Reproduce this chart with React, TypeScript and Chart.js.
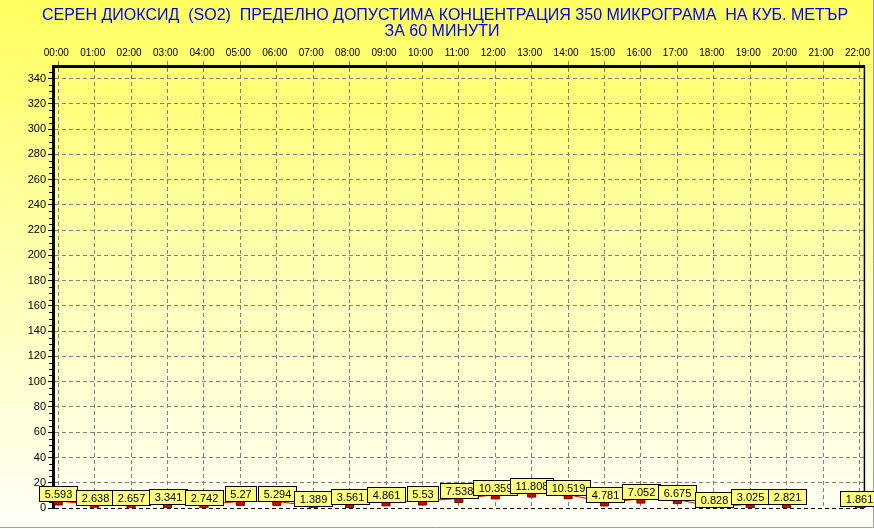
import React, { useEffect, useRef } from 'react';
import { Chart, registerables } from 'chart.js';

Chart.register(...registerables);

const hours: string[] = [
  '00:00', '01:00', '02:00', '03:00', '04:00', '05:00', '06:00', '07:00',
  '08:00', '09:00', '10:00', '11:00', '12:00', '13:00', '14:00', '15:00',
  '16:00', '17:00', '18:00', '19:00', '20:00', '21:00', '22:00',
];

const so2Values: (number | null)[] = [
  5.593, 2.638, 2.657, 3.341, 2.742, 5.27, 5.294, 1.389, 3.561, 4.861, 5.53, 7.538,
  10.359, 11.808, 10.519, 4.781, 7.052, 6.675, 0.828, 3.025, 2.821, null, 1.861,
];

const titleLines: string[] = [
  'СЕРЕН ДИОКСИД  (SO2)  ПРЕДЕЛНО ДОПУСТИМА КОНЦЕНТРАЦИЯ 350 МИКРОГРАМА  НА КУБ. МЕТЪР',
  'ЗА 60 МИНУТИ',
];

const yMin = 0;
const yMax = 350;
const yStep = 20;
const yMinorStep = 5;

const FONT = 'Arial, "Liberation Sans", sans-serif';

const backgroundPlugin = {
  id: 'bgPanel',
  beforeDraw(chart: any) {
    const { ctx, width, height } = chart;
    ctx.save();
    const g = ctx.createLinearGradient(0, 0, 0, height);
    g.addColorStop(0, '#FFFF5E');
    g.addColorStop(0.55, '#FFFFB8');
    g.addColorStop(1, '#FFFFF8');
    ctx.fillStyle = g;
    ctx.fillRect(0, 0, width, height);
    ctx.strokeStyle = '#A0A0A0';
    ctx.lineWidth = 1;
    ctx.beginPath();
    ctx.moveTo(0, height - 1.5);
    ctx.lineTo(width - 0.5, height - 1.5);
    ctx.lineTo(width - 0.5, 0);
    ctx.stroke();
    // title
    ctx.fillStyle = '#0000F0';
    ctx.font = `16px ${FONT}`;
    ctx.textAlign = 'center';
    ctx.textBaseline = 'middle';
    ctx.fillText(titleLines[0], 445, 16);
    ctx.fillText(titleLines[1], 442, 32);
    ctx.restore();
  },
};

const decorPlugin = {
  id: 'decor',
  beforeDatasetsDraw(chart: any) {
    const { ctx, chartArea, scales } = chart;
    const y = scales.y;
    ctx.save();
    ctx.strokeStyle = '#000';
    ctx.lineWidth = 1;
    ctx.beginPath();
    for (let v = yMin + yMinorStep; v < yMax; v += yMinorStep) {
      if (v % yStep === 0) continue;
      const py = Math.round(y.getPixelForValue(v)) + 0.5;
      ctx.moveTo(chartArea.left - 4, py);
      ctx.lineTo(chartArea.left, py);
    }
    ctx.stroke();
    ctx.restore();
  },
  afterDatasetsDraw(chart: any) {
    const { ctx, chartArea } = chart;
    ctx.save();
    // right frame line
    ctx.strokeStyle = '#000';
    ctx.lineWidth = 1.5;
    ctx.beginPath();
    ctx.moveTo(chartArea.right, chartArea.top);
    ctx.lineTo(chartArea.right, chartArea.bottom);
    ctx.stroke();
    // value marks
    const meta = chart.getDatasetMeta(0);
    ctx.font = `11px ${FONT}`;
    ctx.textAlign = 'center';
    ctx.textBaseline = 'middle';
    meta.data.forEach((pt: any, i: number) => {
      const v = so2Values[i];
      if (v === null || v === undefined) return;
      const text = String(v);
      const w = Math.round(ctx.measureText(text).width + 10);
      const h = 15;
      const x0 = Math.round(pt.x - w / 2) + 0.5;
      const y0 = Math.round(pt.y - h) + 0.5;
      ctx.fillStyle = '#FFFF80';
      ctx.fillRect(x0, y0, w, h);
      ctx.strokeStyle = '#000';
      ctx.lineWidth = 1;
      ctx.strokeRect(x0, y0, w, h);
      ctx.fillStyle = '#000';
      ctx.fillText(text, x0 + w / 2, y0 + h / 2 + 0.5);
    });
    ctx.restore();
  },
};

export default function App() {
  const canvasRef = useRef<HTMLCanvasElement | null>(null);

  useEffect(() => {
    document.body.style.margin = '0';
    const canvas = canvasRef.current;
    if (!canvas) return;
    const chart = new Chart(canvas, {
      type: 'line',
      data: {
        datasets: [
          {
            label: 'SO2',
            data: hours.map((_, i) => ({ x: i, y: so2Values[i] })) as any,
            borderColor: '#E00000',
            borderWidth: 1,
            backgroundColor: '#D00000',
            pointStyle: 'rect',
            pointRadius: 5.7,
            pointBorderColor: '#800000',
            pointBorderWidth: 1,
            pointBackgroundColor: '#D00000',
            spanGaps: false,
            tension: 0,
          },
        ],
      },
      options: {
        animation: false,
        responsive: false,
        devicePixelRatio: 1,
        layout: { padding: { top: 0, left: 0, right: 9, bottom: 21 } },
        plugins: {
          legend: { display: false },
          title: { display: false },
          tooltip: { enabled: false },
        },
        scales: {
          x: {
            type: 'linear',
            position: 'top',
            min: -0.145,
            max: 22.137,
            afterFit: (s: any) => { s.height = 66; },
            afterBuildTicks: (s: any) => { s.ticks = hours.map((_, i) => ({ value: i })); },
            ticks: {
              stepSize: 1,
              includeBounds: false,
              autoSkip: false,
              maxRotation: 0,
              padding: 2,
              labelOffset: -2,
              color: '#000',
              font: { family: FONT, size: 10 },
              callback: (v: any) => hours[Number(v)] ?? '',
            },
            grid: {
              color: '#808080',
              lineWidth: 1,
              tickLength: 5,
              tickBorderDash: [4, 3],
              tickColor: '#808080',
            } as any,
            border: { display: true, color: '#000', width: 3, dash: [4, 3] },
          },
          y: {
            type: 'linear',
            min: yMin,
            max: yMax,
            afterFit: (s: any) => { s.width = 53; },
            afterBuildTicks: (s: any) => {
              const t: any[] = [];
              for (let v = yMin; v < yMax; v += yStep) t.push({ value: v });
              s.ticks = t;
            },
            ticks: {
              stepSize: yStep,
              includeBounds: false,
              padding: 2,
              color: '#000',
              font: { family: FONT, size: 11 },
            },
            grid: {
              color: (c: any) => (c.tick && c.tick.value === 0 ? '#000' : '#808080'),
              lineWidth: 1,
              tickLength: 5,
              tickBorderDash: [],
              tickColor: '#000',
            } as any,
            border: { display: true, color: '#000', width: 3, dash: [4, 3] },
          },
        },
      },
      plugins: [backgroundPlugin, decorPlugin],
    });
    return () => chart.destroy();
  }, []);

  return (
    <div style={{ width: 874, height: 529 }}>
      <canvas ref={canvasRef} width={874} height={529} style={{ display: 'block', width: 874, height: 529 }} />
    </div>
  );
}
